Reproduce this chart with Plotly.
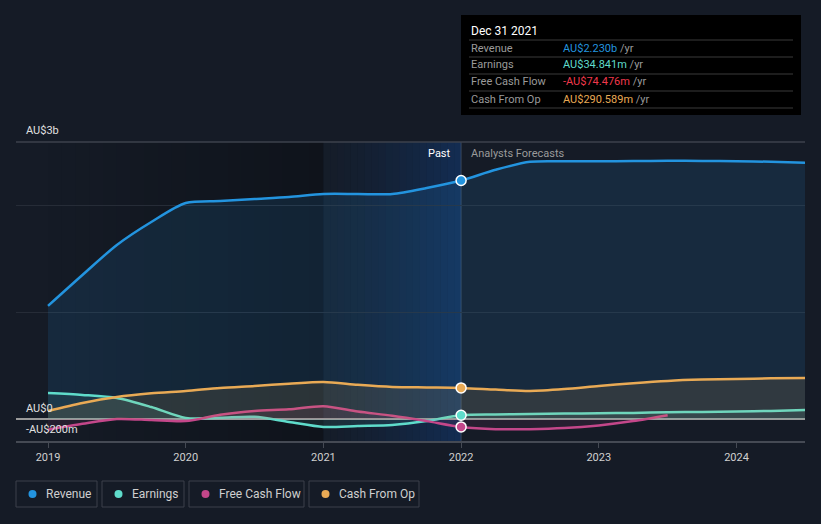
import plotly.graph_objects as go

# ---- data (values in AU$ millions) ----
x_hist = [2019.0, 2019.25, 2019.5, 2019.75, 2020.0, 2020.25, 2020.5, 2020.75, 2021.0, 2021.25, 2021.5, 2021.75, 2022.0]
x_fc = [2022.25, 2022.5, 2022.75, 2023.0, 2023.25, 2023.5, 2023.75, 2024.0, 2024.25, 2024.5]

revenue = [1057, 1346, 1627, 1842, 2020, 2038, 2057, 2076, 2104, 2104, 2104, 2160, 2230,
           2330, 2405, 2410, 2410, 2412, 2414, 2413, 2410, 2405, 2395]
earnings = [243, 225, 196, 112, 10, 12, 20, -28, -75, -65, -56, -20, 34.841,
            42, 47, 50, 53, 57, 62, 66, 70, 75, 84]
x_fcf = x_hist + [2022.25, 2022.5, 2022.75, 2023.0, 2023.25, 2023.5]
fcf = [-100, -45, 0, -10, -20, 40, 75, 90, 120, 70, 30, -20, -74.476,
       -95, -95, -85, -60, -20, 35]
cash_op = [75, 150, 206, 240, 262, 290, 309, 330, 346, 320, 300, 295, 290.589,
           275, 262, 280, 309, 335, 356, 368, 374, 380, 384]
x_all = x_hist + x_fc

series_names = ["Revenue", "Earnings", "Free Cash Flow", "Cash From Op"]
colors = ["#2394df", "#5fdccb", "#c4478a", "#e9aa55"]
tooltip_values = ["AU$2.230b", "AU$34.841m", "-AU$74.476m", "AU$290.589m"]
tooltip_colors = ["#2394df", "#5fdccb", "#f0384c", "#e9aa55"]
year_ticks = [2019, 2020, 2021, 2022, 2023, 2024]

# ---- layout geometry (pixels) ----
W, H = 821, 524
L, R, T, B = 16, 805, 142, 441


def px(x):
    return (x - L) / (R - L)


def py(y):
    return (B - y) / (B - T)


fig = go.Figure()

fills = ["rgba(35,148,223,0.13)", "rgba(95,220,203,0.10)", "rgba(196,71,138,0.10)", "rgba(233,170,85,0.12)"]
xs = [x_all, x_all, x_fcf, x_all]
ys = [revenue, earnings, fcf, cash_op]
for name, c, f, xx, yy in zip(series_names, colors, fills, xs, ys):
    fig.add_trace(go.Scatter(x=xx, y=yy, name=name, mode="lines",
                             line=dict(color=c, width=2.5, shape="spline", smoothing=0.8),
                             fill="tozeroy", fillcolor=f, hoverinfo="skip", showlegend=False))

# hover markers at Dec 31 2021
for c, yy in zip(colors, [revenue[12], earnings[12], fcf[12], cash_op[12]]):
    fig.add_trace(go.Scatter(x=[2022.0], y=[yy], mode="markers",
                             marker=dict(color=c, size=10, line=dict(color="white", width=1.5)),
                             hoverinfo="skip", showlegend=False))

shapes = []
# dark past region (gradient darkening toward 2021)
n = 20
for i in range(n):
    a = 0.28 * ((i + 0.5) / n)
    shapes.append(dict(type="rect", xref="x", yref="paper",
                       x0=2019.0 + 2 * i / n, x1=2019.0 + 2 * (i + 1) / n, y0=0, y1=1,
                       fillcolor=f"rgba(0,0,0,{a:.3f})", line_width=0, layer="below"))
# gradient highlight 2021 -> 2022
for i in range(n):
    a = 0.03 + 0.30 * (i / (n - 1)) ** 1.3
    shapes.append(dict(type="rect", xref="x", yref="paper",
                       x0=2021.0 + i / n, x1=2021.0 + (i + 1) / n, y0=0, y1=1,
                       fillcolor=f"rgba(16,80,170,{a:.3f})", line_width=0, layer="below"))
# vertical line at current date
shapes.append(dict(type="line", xref="x", yref="paper", x0=2022.0, x1=2022.0, y0=0, y1=1,
                   line=dict(color="rgba(120,140,170,0.35)", width=1), layer="below"))
# top line
shapes.append(dict(type="line", xref="paper", yref="paper", x0=0, x1=1, y0=1, y1=1,
                   line=dict(color="#3d424c", width=1.5), layer="below"))

# tooltip box
shapes.append(dict(type="rect", xref="paper", yref="paper", x0=px(461), x1=px(801), y0=py(115), y1=py(15),
                   fillcolor="#000000", line_width=0))
for sy in [40, 57, 74, 91, 108]:
    shapes.append(dict(type="line", xref="paper", yref="paper", x0=px(469), x1=px(793), y0=py(sy), y1=py(sy),
                       line=dict(color="#3a3a3a", width=1)))

annotations = []
font = "Roboto, Arial, sans-serif"
annotations.append(dict(xref="paper", yref="paper", x=px(469), y=py(31), xanchor="left", yanchor="middle",
                        text="Dec 31 2021", showarrow=False, font=dict(color="#ffffff", size=12, family=font)))
for i, (nm, val, col) in enumerate(zip(series_names, tooltip_values, tooltip_colors)):
    yy = 48 + 17 * i
    annotations.append(dict(xref="paper", yref="paper", x=px(469), y=py(yy), xanchor="left", yanchor="middle",
                            text=nm, showarrow=False, font=dict(color="#9a9a9a", size=11, family=font)))
    annotations.append(dict(xref="paper", yref="paper", x=px(561), y=py(yy), xanchor="left", yanchor="middle",
                            text=f"<span style='color:{col}'>{val}</span> <span style='color:#9a9a9a'>/yr</span>",
                            showarrow=False, font=dict(color=col, size=11, family=font)))

# y labels
for txt, yy in [("AU$3b", 130), ("AU$0", 408), ("-AU$200m", 429)]:
    annotations.append(dict(xref="paper", yref="paper", x=px(24), y=py(yy), xanchor="left", yanchor="middle",
                            text=txt, showarrow=False, font=dict(color="#e0e0e0", size=11, family=font)))

# Past / Forecast labels
annotations.append(dict(xref="paper", yref="paper", x=px(453), y=py(153), xanchor="right", yanchor="middle",
                        text="Past", showarrow=False, font=dict(color="#ffffff", size=11, family=font)))
annotations.append(dict(xref="paper", yref="paper", x=px(469), y=py(153), xanchor="left", yanchor="middle",
                        text="Analysts Forecasts", showarrow=False, font=dict(color="#9a9a9a", size=11, family=font)))

# legend boxes
legend_boxes = [(16, 97), (102, 184), (189, 304), (309, 419)]
for (x0, x1), nm, c in zip(legend_boxes, series_names, colors):
    shapes.append(dict(type="rect", xref="paper", yref="paper", x0=px(x0), x1=px(x1), y0=py(507), y1=py(481),
                       line=dict(color="#3c414b", width=1), fillcolor="rgba(0,0,0,0)"))
    shapes.append(dict(type="circle", xref="paper", yref="paper", x0=px(x0 + 12.5), x1=px(x0 + 20.5),
                       y0=py(498), y1=py(490), fillcolor=c, line_width=0))
    annotations.append(dict(xref="paper", yref="paper", x=px(x0 + 28), y=py(494), xanchor="left", yanchor="middle",
                            text=nm, showarrow=False, font=dict(color="#cfcfcf", size=12, family=font)))

fig.update_layout(
    width=W, height=H,
    margin=dict(l=L, r=W - R, t=T, b=H - B),
    paper_bgcolor="#151b26", plot_bgcolor="#151b26",
    showlegend=False,
    shapes=shapes, annotations=annotations,
    font=dict(family=font, color="#cfcfcf"),
    xaxis=dict(range=[2019 - 32 / 137.7, 2019 + 757 / 137.7], tickvals=year_ticks,
               ticktext=[str(y) for y in year_ticks], showgrid=False, zeroline=False,
               showline=True, linecolor="#454a54", linewidth=1.5, ticks="outside", ticklen=5,
               tickcolor="#454a54", tickfont=dict(size=11, color="#d0d0d0", family=font)),
    yaxis=dict(range=[-206, 2590], tickvals=[1000, 2000], showticklabels=False,
               gridcolor="#262c37", gridwidth=1, zeroline=True, zerolinecolor="#9a9a9a", zerolinewidth=1.5),
)

fig.write_html("out.html", config={"displayModeBar": False},
               post_script="document.body.style.margin='0';document.body.style.background='#151b26';")
